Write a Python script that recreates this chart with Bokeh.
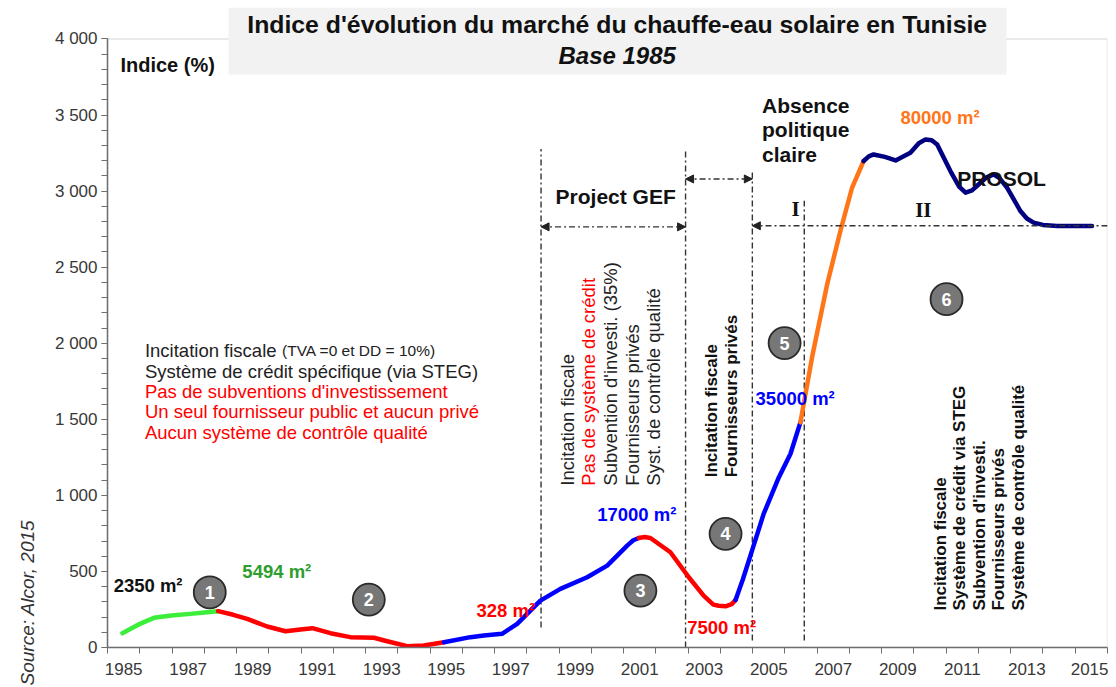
import math
from bokeh.plotting import figure
from bokeh.models import (Range1d, FixedTicker, Label, BoxAnnotation, Arrow,
                          NormalHead, ColumnDataSource, Title)
from bokeh.core.properties import value
from bokeh.embed import file_html
from bokeh.resources import INLINE

# ---------------- data ----------------
green_years = [1984.96, 1985.45, 1985.94, 1986.48, 1987.07, 1987.5, 1987.93]
green_vals = [94, 150, 195, 210, 221, 230, 239]
red1_years = [1987.93, 1988.4, 1988.83, 1989.45, 1990.02, 1990.48, 1990.85, 1991.41,
              1992.03, 1992.76, 1993.17, 1993.79, 1994.3, 1994.93]
red1_vals = [239, 215, 188, 138, 107, 118, 127, 94, 68, 64, 41, 9, 13, 35]
blue1_years = [1994.93, 1995.75, 1996.17, 1996.73, 1997.2, 1997.92, 1998.54, 1999.37,
               1999.99, 2000.61, 2000.8, 2000.97]
blue1_vals = [35, 68, 79, 90, 155, 308, 385, 462, 538, 670, 705, 720]
red2_years = [2000.97, 2001.15, 2001.33, 2001.95, 2002.52, 2002.98, 2003.28, 2003.45,
              2003.66, 2003.85, 2003.97]
red2_vals = [720, 726, 720, 626, 462, 341, 282, 274, 271, 285, 313]
blue2_years = [2003.97, 2004.2, 2004.48, 2004.84, 2005.31, 2005.67, 2005.98]
blue2_vals = [313, 450, 637, 878, 1118, 1272, 1480]
orange_years = [2005.98, 2006.34, 2006.81, 2007.22, 2007.58, 2007.94]
orange_vals = [1480, 1906, 2388, 2738, 3022, 3198]
navy_years = [2007.94, 2008.1, 2008.25, 2008.6, 2008.93, 2009.39, 2009.65, 2009.86,
              2010.05, 2010.22, 2010.63, 2010.9, 2011.1, 2011.3, 2011.51, 2011.75,
              2011.97, 2012.15, 2012.39, 2012.8, 2013.0, 2013.21, 2013.5, 2013.94,
              2015.02]
navy_vals = [3198, 3228, 3241, 3225, 3202, 3252, 3315, 3340, 3335, 3307, 3132, 3030,
             2990, 3005, 3045, 3090, 3110, 3085, 3022, 2869, 2820, 2793, 2778, 2771,
             2771]

x_label_years = list(range(1985, 2016, 2))
year_bounds = [y - 0.5 for y in range(1985, 2017)]
y_major = list(range(0, 4001, 500))
y_minor = list(range(0, 4001, 100))
y_labels = ["0", "500", "1 000", "1 500", "2 000", "2 500", "3 000", "3 500", "4 000"]

badge_years = [1987.67, 1992.6, 2001.02, 2003.66, 2005.49, 2010.51]
badge_vals = [363, 315, 374, 747, 2001, 2290]
badge_text = ["1", "2", "3", "4", "5", "6"]

phase_line_years = [1997.94, 2002.42, 2004.49, 2006.1]
phase_line_low = [131, 0, 46, 46]
phase_line_high = [3277, 3277, 3133, 2936]

FONT = "Liberation Sans"

p = figure(width=1108, height=686, x_range=Range1d(1984.5, 2015.5),
           y_range=Range1d(0, 4207), output_backend="svg", toolbar_location=None,
           title=None, min_border_left=107, min_border_right=1, min_border_top=7,
           min_border_bottom=39)
p.xgrid.visible = False
p.ygrid.visible = False
p.outline_line_color = None
p.background_fill_color = "white"
p.border_fill_color = "white"

# plot-area border (top and right in grey)
p.add_layout(BoxAnnotation(left=1984.5, right=2015.5, bottom=0, top=4000,
                           fill_alpha=0, line_color="#a6a6a6", line_width=1.5,
                           level="underlay"))

# axes
p.yaxis.ticker = FixedTicker(ticks=y_major, minor_ticks=y_minor)
p.yaxis.major_label_overrides = {t: lab for t, lab in zip(y_major, y_labels)}
p.yaxis.bounds = (0, 4000)
p.xaxis.ticker = FixedTicker(ticks=x_label_years, minor_ticks=year_bounds)
for ax in (p.xaxis[0], p.yaxis[0]):
    ax.axis_line_color = "#6e6e6e"
    ax.axis_line_width = 1.5
    ax.major_label_text_font = FONT
    ax.major_label_text_font_size = "17px"
    ax.major_label_text_color = "#383838"
    ax.minor_tick_line_color = "#6e6e6e"
    ax.major_tick_line_color = "#6e6e6e"
    ax.minor_tick_in = 0
    ax.major_tick_in = 0
p.xaxis.major_tick_out = 0
p.xaxis.minor_tick_out = 6
p.xaxis.major_label_standoff = 9
p.yaxis.major_tick_out = 6
p.yaxis.minor_tick_out = 6
p.yaxis.major_label_standoff = 4

# source, written vertically at the far left
p.add_layout(Title(text="Source: Alcor, 2015", align="left", text_font=FONT,
                   text_font_size="19px", text_font_style="italic",
                   text_color="#333333", standoff=28, offset=-38), "left")

# title box
p.add_layout(BoxAnnotation(left=1988.25, right=2012.37, bottom=3767, top=4207,
                           fill_color="#f2f2f2", fill_alpha=1, line_alpha=0))
p.add_layout(Label(x=2000.3, y=4095, text="Indice d'évolution du marché du chauffe-eau solaire en Tunisie",
                   text_font=FONT, text_font_size="24.8px", text_font_style="bold",
                   text_align="center", text_baseline="middle", text_color="#111111"))
p.add_layout(Label(x=2000.3, y=3892, text="Base 1985", text_font=FONT,
                   text_font_size="24px", text_font_style="bold italic",
                   text_align="center", text_baseline="middle", text_color="#111111"))
p.add_layout(Label(x=1984.9, y=3829, text="Indice (%)", text_font=FONT,
                   text_font_size="20px", text_font_style="bold",
                   text_align="left", text_baseline="middle", text_color="#111111"))

# phase lines
dash = "6 3 2 3"
p.segment(x0=phase_line_years, y0=phase_line_low, x1=phase_line_years,
          y1=phase_line_high, line_color="#333333", line_width=1.4, line_dash=dash)

def arrow(x0, x1, y, both=True):
    head = lambda: NormalHead(size=8, fill_color="#222222", line_color="#222222")
    p.add_layout(Arrow(x_start=x0, y_start=y, x_end=x1, y_end=y,
                       start=head() if both else None, end=head(),
                       line_color="#333333", line_width=1.4, line_dash=dash))

arrow(phase_line_years[0], phase_line_years[1], 2765)
arrow(phase_line_years[1], phase_line_years[2], 3080)
arrow(2015.5, phase_line_years[2], 2772, both=False)

# curve
seg = [(green_years, green_vals, "#3aee3a"), (red1_years, red1_vals, "#ff0000"),
       (blue1_years, blue1_vals, "#0000ff"), (red2_years, red2_vals, "#ff0000"),
       (blue2_years, blue2_vals, "#0000ff"), (orange_years, orange_vals, "#ff7518"),
       (navy_years, navy_vals, "#000080")]
for xs, ys, c in seg:
    p.line(xs, ys, line_color=c, line_width=4.5, line_join="round", line_cap="round")

# badges
bsrc = ColumnDataSource(dict(x=badge_years, y=badge_vals, t=badge_text))
p.scatter("x", "y", source=bsrc, size=32, fill_color="#777777", line_color="#2a2a2a",
          line_width=1.8)
p.text("x", "y", text="t", source=bsrc, text_color="white", text_font=value(FONT),
       text_font_size="18px", text_font_style="bold", text_align="center",
       text_baseline="middle")

def lab(x, y, t, color="#111111", size="18.5px", style="bold", align="left", font=FONT,
        angle=0.0):
    p.add_layout(Label(x=x, y=y, text=t, text_color=color, text_font=font,
                       text_font_size=size, text_font_style=style, text_align=align,
                       text_baseline="middle", angle=angle))

# surface labels
lab(1984.69, 407, "2350 m²")
lab(1988.68, 501, "5494 m²", color="#2e9e2e")
lab(1995.94, 243, "328 m²", color="#ff0000")
lab(1999.68, 872, "17000 m²", color="#0000ff")
lab(2002.47, 133, "7500 m²", color="#ff0000")
lab(2004.59, 1640, "35000 m²", color="#0000ff")
lab(2009.08, 3483, "80000 m²", color="#ff7518")
lab(2010.84, 3085, "PROSOL", size="21px")
lab(2004.79, 3560, "Absence", size="21px")
lab(2004.79, 3402, "politique", size="21px")
lab(2004.79, 3243, "claire", size="21px")
lab(1998.39, 2962, "Project GEF", size="21px")
lab(2005.83, 2881, "I", size="21px", align="center", font="Liberation Serif")
lab(2009.79, 2875, "II", size="21px", align="center", font="Liberation Serif")

# left block
left_lines = [("Incitation fiscale", "#222222", 1951),
              ("Système de crédit spécifique (via STEG)", "#222222", 1816),
              ("Pas de subventions d'investissement", "#ff0000", 1681),
              ("Un seul fournisseur public et aucun privé", "#ff0000", 1550),
              ("Aucun système de contrôle qualité", "#ff0000", 1412)]
for t, c, y in left_lines:
    lab(1985.66, y, t, color=c, style="normal")
lab(1989.91, 1951, "(TVA =0 et DD = 10%)", color="#222222", style="normal",
    size="15.5px")

# rotated blocks
gef_lines = [("Incitation fiscale", "#222222"), ("Pas de système de crédit", "#ff0000"),
             ("Subvention d'investi. (35%)", "#222222"), ("Fournisseurs privés", "#222222"),
             ("Syst. de contrôle qualité", "#222222")]
gef_x = [1998.75, 1999.42, 2000.09, 2000.76, 2001.43]
for (t, c), x in zip(gef_lines, gef_x):
    lab(x, 1064, t, color=c, style="normal", angle=math.pi / 2)

mid_lines = ["Incitation fiscale", "Fournisseurs privés"]
mid_x = [2003.21, 2003.83]
for t, x in zip(mid_lines, mid_x):
    lab(x, 1119, t, size="17px", angle=math.pi / 2)

pro_lines = ["Incitation fiscale", "Système de crédit via STEG", "Subvention d'investi.",
             "Fournisseurs privés", "Système de contrôle qualité"]
pro_x = [2010.32, 2010.92, 2011.53, 2012.13, 2012.75]
for t, x in zip(pro_lines, pro_x):
    lab(x, 243, t, size="17px", angle=math.pi / 2)

open("out.html", "w").write(file_html(p, INLINE))
